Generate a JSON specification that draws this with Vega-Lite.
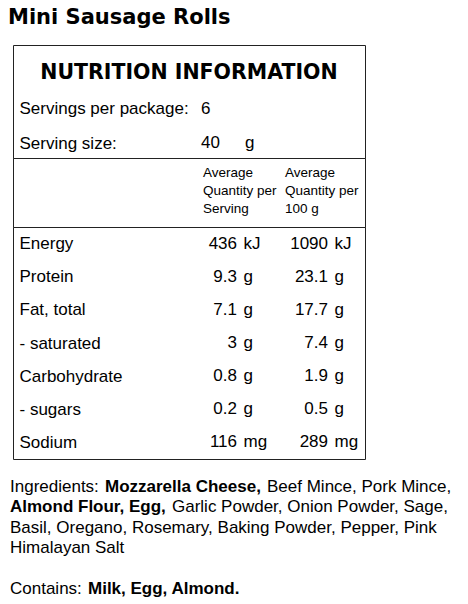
{
  "$schema": "https://vega.github.io/schema/vega-lite/v6.json",
  "padding": {"left": 8, "top": 6, "right": 0, "bottom": 0},
  "background": "white",
  "title": {
    "text": "Mini Sausage Rolls",
    "anchor": "start",
    "frame": "group",
    "font": "DejaVu Sans",
    "fontSize": 21,
    "fontWeight": "bold",
    "color": "#000",
    "offset": 17,
    "dx": -5
  },
  "spacing": 0,
  "bounds": "flush",
  "config": {
    "view": {"stroke": "#222", "strokeWidth": 1},
    "text": {"font": "Liberation Sans", "fontSize": 17, "color": "#000"},
    "axis": {
      "title": null,
      "domain": false,
      "ticks": false,
      "tickSize": 0,
      "grid": false,
      "minExtent": 0,
      "labelAlign": "left",
      "labelPadding": -6,
      "labelFont": "Liberation Sans",
      "labelFontSize": 17,
      "labelColor": "#000",
      "labelLimit": 400
    }
  },
  "vconcat": [
    {
      "width": 352,
      "height": 113,
      "data": {
        "values": [
          {"line": "NUTRITION INFORMATION"},
          {"line": "Servings per package:", "amount": "6"},
          {"line": "Serving size:", "amount": "40", "unit": "g"}
        ]
      },
      "encoding": {
        "y": {
          "field": "line",
          "type": "nominal",
          "sort": null,
          "scale": {"type": "point", "range": [34, 103], "padding": 0},
          "axis": {"values": ["Servings per package:", "Serving size:"], "labelBaseline": "alphabetic"}
        }
      },
      "layer": [
        {
          "transform": [{"filter": "datum.line === 'NUTRITION INFORMATION'"}],
          "mark": {"type": "text", "font": "DejaVu Sans", "fontSize": 20.5, "fontWeight": "bold", "baseline": "alphabetic"},
          "encoding": {"text": {"field": "line"}}
        },
        {
          "transform": [{"fold": ["amount", "unit"]}, {"filter": "isValid(datum.value)"}],
          "mark": {"type": "text", "align": "left", "baseline": "alphabetic"},
          "encoding": {
            "x": {
              "field": "key",
              "type": "nominal",
              "scale": {"type": "point", "domain": ["amount", "unit"], "range": [188, 232], "padding": 0},
              "axis": null
            },
            "text": {"field": "value"}
          }
        }
      ]
    },
    {
      "width": 352,
      "height": 69,
      "data": {
        "values": [
          {"column": "serving", "header": "Average\nQuantity per\nServing"},
          {"column": "per100", "header": "Average\nQuantity per\n100 g"}
        ]
      },
      "mark": {"type": "text", "align": "left", "baseline": "alphabetic", "dy": -15.5, "fontSize": 13.5, "lineBreak": "\n", "lineHeight": 18},
      "encoding": {
        "x": {
          "field": "column",
          "type": "nominal",
          "sort": null,
          "scale": {"type": "point", "range": [190, 272], "padding": 0},
          "axis": null
        },
        "text": {"field": "header"}
      }
    },
    {
      "width": 352,
      "height": 232,
      "data": {
        "values": [
          {"nutrient": "Energy", "serving": 436, "per100": 1090, "unit": "kJ"},
          {"nutrient": "Protein", "serving": 9.3, "per100": 23.1, "unit": "g"},
          {"nutrient": "Fat, total", "serving": 7.1, "per100": 17.7, "unit": "g"},
          {"nutrient": "- saturated", "serving": 3, "per100": 7.4, "unit": "g"},
          {"nutrient": "Carbohydrate", "serving": 0.8, "per100": 1.9, "unit": "g"},
          {"nutrient": "- sugars", "serving": 0.2, "per100": 0.5, "unit": "g"},
          {"nutrient": "Sodium", "serving": 116, "per100": 289, "unit": "mg"}
        ]
      },
      "transform": [{"fold": ["serving", "per100"]}],
      "encoding": {
        "y": {"field": "nutrient", "type": "nominal", "sort": null, "axis": {}},
        "x": {
          "field": "key",
          "type": "nominal",
          "scale": {"type": "point", "domain": ["serving", "per100"], "range": [224, 315], "padding": 0},
          "axis": null
        }
      },
      "layer": [
        {
          "mark": {"type": "text", "align": "right"},
          "encoding": {"text": {"field": "value", "type": "quantitative"}}
        },
        {
          "mark": {"type": "text", "align": "left", "dx": 6.5},
          "encoding": {"text": {"field": "unit"}}
        }
      ]
    },
    {
      "width": 352,
      "height": 144,
      "view": {"stroke": null},
      "data": {
        "values": [
          {"line": "1", "part": 1, "text": "Ingredients:", "allergen": false},
          {"line": "1", "part": 2, "text": "Mozzarella Cheese,", "allergen": true},
          {"line": "1", "part": 3, "text": "Beef Mince, Pork Mince,", "allergen": false},
          {"line": "2", "part": 1, "text": "Almond Flour, Egg,", "allergen": true},
          {"line": "2", "part": 2, "text": "Garlic Powder, Onion Powder, Sage,", "allergen": false},
          {"line": "3", "part": 1, "text": "Basil, Oregano, Rosemary, Baking Powder, Pepper, Pink", "allergen": false},
          {"line": "4", "part": 1, "text": "Himalayan Salt", "allergen": false},
          {"line": "6", "part": 1, "text": "Contains:", "allergen": false},
          {"line": "6", "part": 2, "text": "Milk, Egg, Almond.", "allergen": true}
        ]
      },
      "encoding": {
        "y": {
          "field": "line",
          "type": "nominal",
          "scale": {"type": "point", "domain": ["1", "2", "3", "4", "5", "6"], "range": [33, 135], "padding": 0},
          "axis": null
        },
        "text": {"field": "text"}
      },
      "resolve": {"scale": {"x": "independent"}},
      "layer": [
        {
          "transform": [{"filter": "datum.part === 1 && !datum.allergen"}],
          "mark": {"type": "text", "align": "left", "baseline": "alphabetic"},
          "encoding": {"x": {"field": "part", "type": "nominal", "scale": {"type": "point", "range": [-3, -3]}, "axis": null}}
        },
        {
          "transform": [{"filter": "datum.part === 1 && datum.allergen"}],
          "mark": {"type": "text", "align": "left", "baseline": "alphabetic", "fontWeight": "bold"},
          "encoding": {"x": {"field": "part", "type": "nominal", "scale": {"type": "point", "range": [-3, -3]}, "axis": null}}
        },
        {
          "transform": [{"filter": "datum.line === '1' && datum.part === 2"}],
          "mark": {"type": "text", "align": "left", "baseline": "alphabetic", "fontWeight": "bold"},
          "encoding": {"x": {"field": "part", "type": "nominal", "scale": {"type": "point", "range": [92, 92]}, "axis": null}}
        },
        {
          "transform": [{"filter": "datum.line === '1' && datum.part === 3"}],
          "mark": {"type": "text", "align": "left", "baseline": "alphabetic"},
          "encoding": {"x": {"field": "part", "type": "nominal", "scale": {"type": "point", "range": [254, 254]}, "axis": null}}
        },
        {
          "transform": [{"filter": "datum.line === '2' && datum.part === 2"}],
          "mark": {"type": "text", "align": "left", "baseline": "alphabetic"},
          "encoding": {"x": {"field": "part", "type": "nominal", "scale": {"type": "point", "range": [159, 159]}, "axis": null}}
        },
        {
          "transform": [{"filter": "datum.line === '6' && datum.part === 2"}],
          "mark": {"type": "text", "align": "left", "baseline": "alphabetic", "fontWeight": "bold"},
          "encoding": {"x": {"field": "part", "type": "nominal", "scale": {"type": "point", "range": [75, 75]}, "axis": null}}
        }
      ]
    }
  ]
}
